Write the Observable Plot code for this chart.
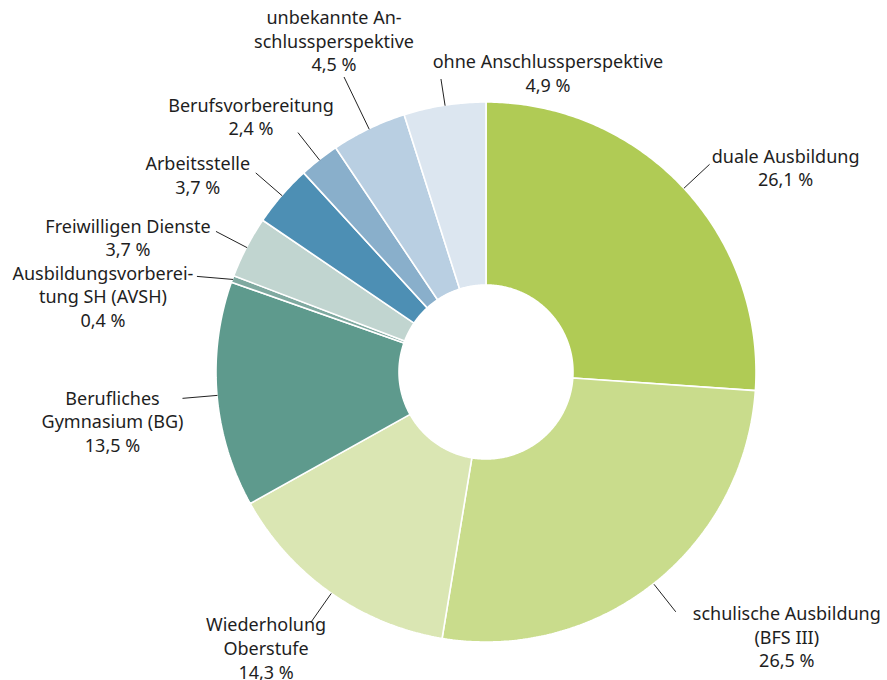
<!DOCTYPE html>
<html>
<head>
<meta charset="utf-8">
<script src="https://cdn.jsdelivr.net/npm/d3@7"></script>
<script src="https://cdn.jsdelivr.net/npm/@observablehq/plot@0.6"></script>
<style>
  html, body { margin: 0; padding: 0; background: #fff; }
  #chart { width: 887px; height: 680px; }
</style>
</head>
<body>
<div id="chart"></div>
<script>
// ---- data ----
const categories = [
  "duale Ausbildung",
  "schulische Ausbildung (BFS III)",
  "Wiederholung Oberstufe",
  "Berufliches Gymnasium (BG)",
  "Ausbildungsvorbereitung SH (AVSH)",
  "Freiwilligen Dienste",
  "Arbeitsstelle",
  "Berufsvorbereitung",
  "unbekannte Anschlussperspektive",
  "ohne Anschlussperspektive"
];
const shares = [26.1, 26.5, 14.3, 13.5, 0.4, 3.7, 3.7, 2.4, 4.5, 4.9];
const labelLines = [
  ["duale Ausbildung"],
  ["schulische Ausbildung", "(BFS III)"],
  ["Wiederholung", "Oberstufe"],
  ["Berufliches", "Gymnasium (BG)"],
  ["Ausbildungsvorberei-", "tung SH (AVSH)"],
  ["Freiwilligen Dienste"],
  ["Arbeitsstelle"],
  ["Berufsvorbereitung"],
  ["unbekannte An-", "schlussperspektive"],
  ["ohne Anschlussperspektive"]
];
const sliceColors = [
  "#b0cb55", "#c9dc8c", "#dae6b3", "#5e9a8d", "#7fa9a0",
  "#c1d5d0", "#4d8fb4", "#89afcb", "#b9cfe2", "#dce6f0"
];

// ---- layout (not data) ----
const W = 887, H = 680;
const R = 270;            // outer radius in px
const cx = 486, cy = 372; // centre in px
const innerR = 87 / R;
const FS = 18;
// leader end radius (relative to outer radius), leader end turn (deg), label offsets in px
const leaderEnd = [1.13, 1.13, 1.13, 1.13, 1.13, 1.13, 1.13, 1.13, 1.215, 1.10];
const leaderTurn = [0, 0, 0, 0, -1.8, 0, 0, 0, 0, 0];
const labelOffset = [
  [76, -5], [111, 5], [-45, 6], [-70, 3], [-94, 0],
  [-88, -2], [-58, -6], [-47, -24], [-10, -56], [107, -14]
];

const fmt = v => d3.format(".1f")(v).replace(".", ",") + " %";
const total = d3.sum(shares);
const k = 1 / R;

const sliceData = [];
const leaders = [];
const labels = [];
let cum = 0;
shares.forEach((v, i) => {
  const a0 = (cum / total) * 2 * Math.PI;
  cum += v;
  const a1 = (cum / total) * 2 * Math.PI;
  const n = Math.max(4, Math.ceil((a1 - a0) / 0.01));
  for (let j = 0; j <= n; j++) {
    const a = a0 + (a1 - a0) * j / n;
    sliceData.push({
      key: categories[i],
      x1: Math.sin(a), y1: Math.cos(a),
      x2: innerR * Math.sin(a), y2: innerR * Math.cos(a)
    });
  }
  const am = (a0 + a1) / 2;
  const ae = am + leaderTurn[i] * Math.PI / 180;
  const ex = leaderEnd[i] * Math.sin(ae), ey = leaderEnd[i] * Math.cos(ae);
  leaders.push({x1: Math.sin(am), y1: Math.cos(am), x2: ex, y2: ey});
  const [dx, dy] = labelOffset[i];
  labels.push({
    x: ex + dx * k,
    y: ey - (dy - 13.5) * k,
    text: [...labelLines[i], fmt(v)].join("\n")
  });
});

const plot = Plot.plot({
  width: W,
  height: H,
  margin: 0,
  x: {domain: [-cx / R, (W - cx) / R], axis: null},
  y: {domain: [-(H - cy) / R, cy / R], axis: null},
  color: {domain: categories, range: sliceColors},
  style: {fontFamily: "'Noto Sans', sans-serif", background: "#fff"},
  marks: [
    Plot.area(sliceData, {
      x1: "x1", y1: "y1", x2: "x2", y2: "y2",
      z: "key", fill: "key",
      stroke: "white", strokeWidth: 1.6, strokeLinejoin: "miter"
    }),
    Plot.link(leaders, {
      x1: "x1", y1: "y1", x2: "x2", y2: "y2",
      stroke: "#222", strokeWidth: 1
    }),
    Plot.text(labels, {
      x: "x", y: "y", text: "text",
      textAnchor: "middle", lineAnchor: "top",
      lineHeight: 1.31, fontSize: FS, fill: "#1e1e1e"
    })
  ]
});
document.getElementById("chart").appendChild(plot);
</script>
</body>
</html>
